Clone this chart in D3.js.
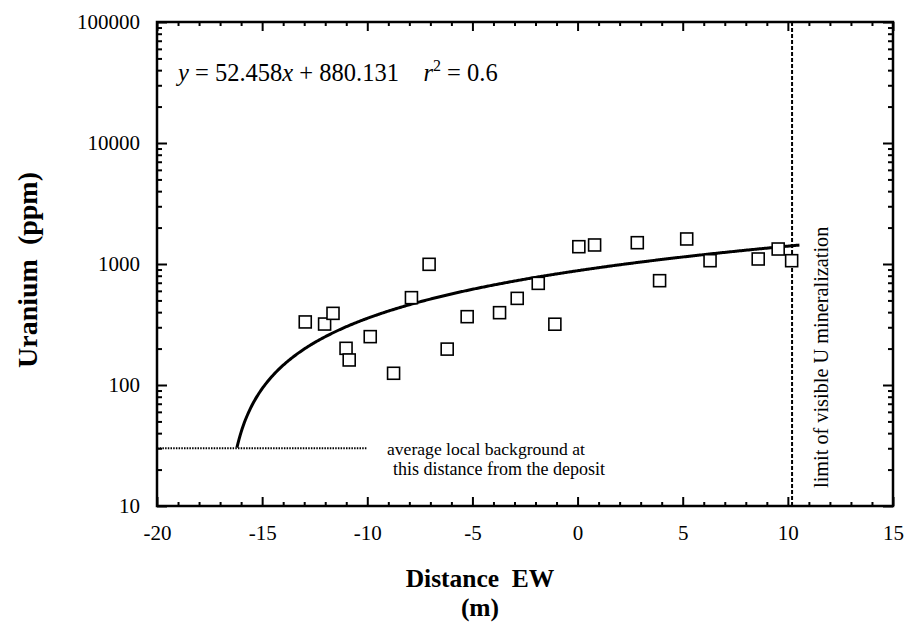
<!DOCTYPE html>
<html><head><meta charset="utf-8">
<script src="https://cdn.jsdelivr.net/npm/d3@7"></script>
<style>body{margin:0;background:#fff}svg{display:block}text{font-family:"Liberation Serif","Times New Roman",serif;fill:#000;white-space:pre}</style>
</head><body>
<svg id="c" width="907" height="644"></svg>
<script>
const distance = [-12.95,-12.03,-11.63,-11.01,-10.86,-9.86,-8.75,-7.90,-7.06,-6.20,-5.25,-3.71,-2.87,-1.87,-1.08,0.06,0.81,2.84,3.90,5.19,6.30,8.59,9.54,10.18];
const uranium  = [332,319,391,201,161,251,125,527,994,198,367,396,520,692,318,1390,1436,1500,728,1610,1065,1100,1330,1065];
const fitCoef = [52.458, 880.131];   // slope, intercept
const fitRange = [-16.2, 10.55];
const background = 30, backgroundRange = [-20, -10];
const limitX = 10.2;
const xMajor = [-20,-15,-10,-5,0,5,10,15];
const yMajor = [10,100,1000,10000,100000];

const svg = d3.select("#c");
const L=157,R=893,T=22,B=506;
const x = d3.scaleLinear().domain([-20,15]).range([L,R]);
const y = d3.scaleLog().domain([10,100000]).range([B,T]);

const xMinor = d3.range(-20,16,1).filter(v=>!xMajor.includes(v));
const yMinor = [];
yMajor.slice(0,-1).forEach(d=>{for(let k=2;k<10;k++) yMinor.push(d*k);});
const fmt = d => String(d);

function styleAxis(g){g.select(".domain").remove();g.selectAll("line").attr("stroke","#000").attr("stroke-width",2);
  g.selectAll("text").style("font-family","'Liberation Serif',serif").style("font-size","21px");}
// bottom
svg.append("g").attr("transform",`translate(0,${B})`).call(d3.axisBottom(x).tickValues(xMajor).tickSize(-9).tickPadding(19).tickFormat(fmt)).call(styleAxis);
svg.append("g").attr("transform",`translate(0,${B})`).call(d3.axisBottom(x).tickValues(xMinor).tickSize(-4).tickFormat("")).call(styleAxis);
// top
svg.append("g").attr("transform",`translate(0,${T})`).call(d3.axisTop(x).tickValues(xMajor).tickSize(-9).tickFormat("")).call(styleAxis);
svg.append("g").attr("transform",`translate(0,${T})`).call(d3.axisTop(x).tickValues(xMinor).tickSize(-4).tickFormat("")).call(styleAxis);
// left
svg.append("g").attr("transform",`translate(${L},0)`).call(d3.axisLeft(y).tickValues(yMajor).tickSize(-10).tickPadding(17).tickFormat(fmt)).call(styleAxis);
svg.append("g").attr("transform",`translate(${L},0)`).call(d3.axisLeft(y).tickValues(yMinor).tickSize(-5).tickFormat("")).call(styleAxis);
// right
svg.append("g").attr("transform",`translate(${R},0)`).call(d3.axisRight(y).tickValues(yMajor).tickSize(-10).tickFormat("")).call(styleAxis);
svg.append("g").attr("transform",`translate(${R},0)`).call(d3.axisRight(y).tickValues(yMinor).tickSize(-5).tickFormat("")).call(styleAxis);

// frame
svg.append("rect").attr("x",L).attr("y",T).attr("width",R-L).attr("height",B-T).attr("fill","none").attr("stroke","#000").attr("stroke-width",2.5);

// background dotted line
svg.append("line").attr("x1",x(backgroundRange[0])).attr("x2",x(backgroundRange[1])).attr("y1",y(background)).attr("y2",y(background))
  .attr("stroke","#000").attr("stroke-width",2).attr("stroke-dasharray","1.5,1.2");
// limit dashed line
svg.append("line").attr("x1",x(limitX)).attr("x2",x(limitX)).attr("y1",T).attr("y2",B)
  .attr("stroke","#000").attr("stroke-width",2).attr("stroke-dasharray","4,2");

// fit curve
const fx = d3.range(fitRange[0], fitRange[1]+0.001, 0.05);
svg.append("path").datum(fx).attr("fill","none").attr("stroke","#000").attr("stroke-width",3)
  .attr("d", d3.line().x(d=>x(d)).y(d=>y(fitCoef[0]*d+fitCoef[1])));

// points
const s=12;
svg.selectAll("rect.pt").data(distance).enter().append("rect").attr("class","pt")
  .attr("x",(d)=>x(d)-s/2).attr("y",(d,i)=>y(uranium[i])-s/2).attr("width",s).attr("height",s)
  .attr("fill","#fff").attr("stroke","#000").attr("stroke-width",1.6);

// equation
const eq = svg.append("text").attr("x",178).attr("y",81).attr("font-size",24.5);
eq.append("tspan").attr("font-style","italic").text("y");
eq.append("tspan").text(" = 52.458");
eq.append("tspan").attr("font-style","italic").text("x");
eq.append("tspan").text(" + 880.131    ");
eq.append("tspan").attr("font-style","italic").text("r");
eq.append("tspan").attr("font-size",16).attr("dy",-10).text("2");
eq.append("tspan").attr("dy",10).text(" = 0.6");

// background annotation
svg.append("text").attr("x",387).attr("y",455).attr("font-size",17.6).text("average local background at");
svg.append("text").attr("x",393).attr("y",475).attr("font-size",18).text("this distance from the deposit");

// limit annotation
svg.append("text").attr("transform",`translate(828,488) rotate(-90)`).attr("font-size",20.3).text("limit of visible U mineralization");

// axis titles
svg.append("text").attr("transform","translate(37,270) rotate(-90)").attr("text-anchor","middle").attr("font-size",28).attr("font-weight","bold").text("Uranium  (ppm)");
svg.append("text").attr("x",480).attr("y",587).attr("text-anchor","middle").attr("font-size",25.5).attr("font-weight","bold").text("Distance  EW");
svg.append("text").attr("x",480).attr("y",616).attr("text-anchor","middle").attr("font-size",25.5).attr("font-weight","bold").text("(m)");
</script>
</body></html>
